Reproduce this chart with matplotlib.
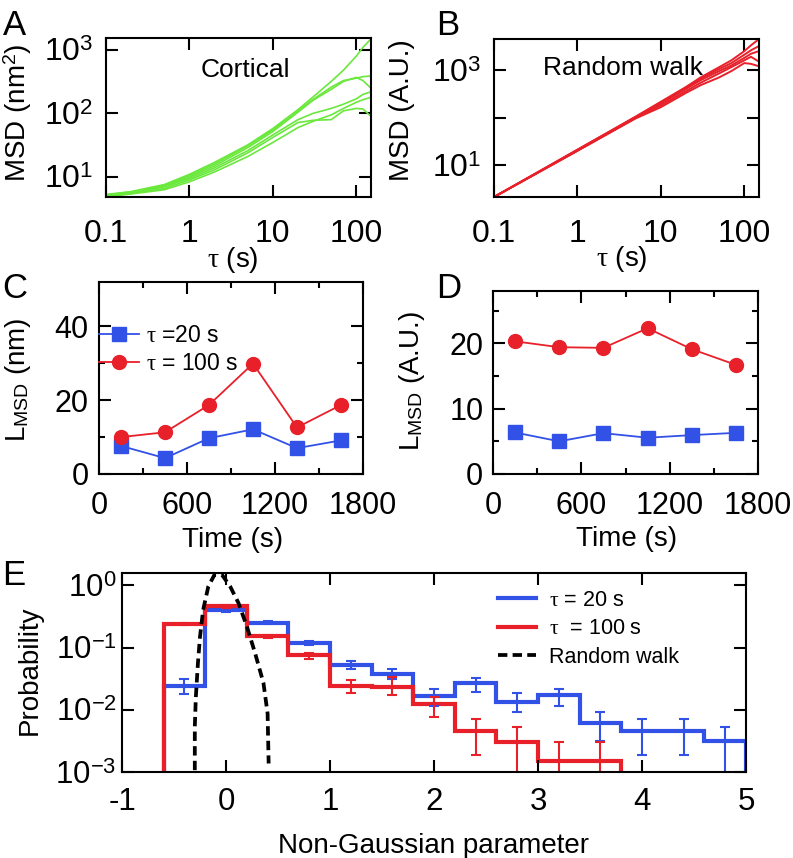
import matplotlib
matplotlib.use("Agg")
import matplotlib.pyplot as plt
from matplotlib.lines import Line2D
from matplotlib.ticker import NullLocator
import numpy as np

plt.rcParams['font.family'] = ['Liberation Sans', 'DejaVu Sans']
plt.rcParams['mathtext.fontset'] = 'custom'
plt.rcParams['mathtext.rm'] = 'Liberation Serif'
plt.rcParams['mathtext.it'] = 'Liberation Serif:italic'
plt.rcParams['mathtext.sf'] = 'Liberation Sans'
plt.rcParams['mathtext.bf'] = 'Liberation Sans:bold'

# --- panel A: cortical MSD curves (nm^2)
tau_cort = [0.1, 0.2, 0.5, 1, 2, 5, 10, 20, 30, 50, 70, 100, 120, 150]
cortical = [
    [5.3, 5.9, 7.6, 11.0, 17, 32, 58, 115, 180, 320, 480, 800, 1100, 1500],
    [5.2, 5.8, 7.3, 10.5, 16, 31, 55, 110, 165, 260, 330, 360, 380, 390],
    [5.1, 5.7, 7.2, 10.0, 15, 29, 52, 105, 160, 240, 320, 370, 330, 250],
    [5.0, 5.6, 7.0, 9.5, 14, 26, 46, 80, 100, 120, 140, 170, 200, 220],
    [5.0, 5.5, 6.6, 9.0, 13, 24, 42, 72, 78, 80, 110, 120, 118, 90],
    [4.9, 5.4, 6.3, 8.4, 12, 21, 35, 60, 75, 95, 120, 150, 165, 180],
]

# --- panel B: simulated random walk MSD (A.U.)
tau_rw = [0.1, 1, 5, 10, 20, 30, 50, 70, 100, 120, 150]
random_walk = [
    [2.12, 21, 105, 215, 440, 700, 1150, 1600, 2500, 3300, 4500],
    [2.12, 21, 103, 205, 420, 660, 1050, 1400, 2100, 2600, 3200],
    [2.12, 20, 100, 195, 400, 610, 950, 1250, 1800, 2200, 2500],
    [2.12, 20, 98, 180, 360, 540, 850, 1150, 1600, 1900, 1500],
    [2.12, 20, 96, 165, 330, 480, 700, 950, 1400, 1350, 1200],
]

# --- panels C, D: L_MSD vs time
time_s = [150, 450, 750, 1050, 1350, 1650]
c_tau20 = [7.6, 4.3, 9.7, 12.1, 7.0, 9.1]
c_tau100 = [10.0, 11.3, 18.7, 29.9, 12.6, 18.7]
d_tau20 = [6.35, 5.0, 6.25, 5.55, 5.95, 6.3]
d_tau100 = [20.3, 19.4, 19.3, 22.3, 19.1, 16.7]

# --- panel E: non-Gaussian parameter histograms
blue_edges = [-0.6, -0.2, 0.2, 0.6, 1.0, 1.4, 1.8, 2.2, 2.6, 3.0, 3.4, 3.8, 4.2, 4.6, 5.0]
blue_prob = [0.024, 0.40, 0.25, 0.118, 0.053, 0.038, 0.0168, 0.0267, 0.0135, 0.0173,
             0.0062, 0.0046, 0.0046, 0.0031]
blue_lo = [0.018, 0.37, 0.235, 0.108, 0.046, 0.031, 0.0115, 0.0195, 0.0091, 0.0115,
           0.0031, 0.0019, 0.0019, 0.0008]
blue_hi = [0.031, 0.42, 0.265, 0.128, 0.060, 0.045, 0.0213, 0.032, 0.0184, 0.0216,
           0.0091, 0.0071, 0.0071, 0.0052]

red_edges = [-0.6, -0.2, 0.2, 0.6, 1.0, 1.4, 1.8, 2.2, 2.6, 3.0, 3.4, 3.8]
red_prob = [0.238, 0.458, 0.151, 0.076, 0.0245, 0.023, 0.0122, 0.0046, 0.0030, 0.0015, 0.0015]
red_lo = [0.228, 0.44, 0.145, 0.066, 0.0184, 0.017, 0.0077, 0.0019, 0.0008, 0.0008, 0.0008]
red_hi = [0.248, 0.475, 0.158, 0.083, 0.030, 0.034, 0.0162, 0.0071, 0.0052, 0.0030, 0.0030]

rw_x = [-0.30, -0.30, -0.29, -0.27, -0.25, -0.22, -0.17, -0.11, -0.04, 0.04, 0.12, 0.20,
        0.28, 0.36, 0.40, 0.41]
rw_p = [0.00107, 0.0053, 0.016, 0.056, 0.15, 0.40, 0.96, 1.49, 1.49, 0.96, 0.52, 0.22,
        0.081, 0.027, 0.0087, 0.00137]

GREEN = '#6AE83C'
BLUE = '#3251E6'
RED = '#E8202A'
TAU = r'$\mathrm{\tau}$'
DASH = (0, (2.5, 1.4))

W, H = 793, 858
fig = plt.figure(figsize=(W / 100, H / 100), dpi=100)


def box(left, top, right, bottom):
    return [left / W, 1 - bottom / H, (right - left) / W, (bottom - top) / H]


def style(ax, xpad, ypad, size):
    ax.tick_params(which='both', direction='in', top=True, right=True, width=1.5,
                   labelsize=size)
    ax.tick_params(which='major', length=8.5)
    ax.tick_params(which='minor', length=4.3)
    ax.tick_params(axis='x', pad=xpad)
    ax.tick_params(axis='y', pad=ypad)
    for s in ax.spines.values():
        s.set_linewidth(1.5)


def sup(n):
    return r'10$^{\mathsf{%s}}$' % n


# A
axA = fig.add_axes(box(106, 38, 371, 197))
for c in cortical:
    axA.plot(tau_cort, c, color=GREEN, lw=1.2)
axA.set_xscale('log')
axA.set_yscale('log')
axA.set_xlim(0.1, 150)
axA.set_ylim(4.84, 1545)
axA.set_xticks([0.1, 1, 10, 100], labels=['0.1', '1', '10', '100'])
axA.set_yticks([10, 100, 1000], labels=[sup(1), sup(2), sup(3)])
axA.xaxis.set_minor_locator(NullLocator())
axA.yaxis.set_minor_locator(NullLocator())
style(axA, 15.5, 9.5, 23)
axA.text(0.525, 0.8, 'Cortical', transform=axA.transAxes, fontsize=19,
         ha='center', va='center')
axA.set_xlabel(TAU + ' (s)', fontsize=20)
axA.xaxis.set_label_coords(0.48, -0.30)
axA.set_ylabel(r'MSD (nm$^{\mathsf{2}}$)', fontsize=20)
axA.yaxis.set_label_coords(-0.27, 0.53)

# B
axB = fig.add_axes(box(494, 39, 759, 197))
axB.text(0.487, 0.816, 'Random walk', transform=axB.transAxes, fontsize=19,
         ha='center', va='center')
for c in random_walk:
    axB.plot(tau_rw, c, color=RED, lw=1.4)
axB.set_xscale('log')
axB.set_yscale('log')
axB.set_xlim(0.1, 150)
axB.set_ylim(2.12, 4500)
axB.set_xticks([0.1, 1, 10, 100], labels=['0.1', '1', '10', '100'])
axB.set_yticks([10, 100, 1000], labels=[sup(1), '', sup(3)])
axB.xaxis.set_minor_locator(NullLocator())
axB.yaxis.set_minor_locator(NullLocator())
style(axB, 15.5, 9.5, 23)
axB.set_xlabel(TAU + ' (s)', fontsize=20)
axB.xaxis.set_label_coords(0.483, -0.30)
axB.set_ylabel('MSD (A.U.)', fontsize=20)
axB.yaxis.set_label_coords(-0.298, 0.55)

# C
axC = fig.add_axes(box(99, 282, 363, 474))
axC.plot(time_s, c_tau20, color=BLUE, lw=1.3, marker='s', ms=9.5,
         label=TAU + ' =20 s')
axC.plot(time_s, c_tau100, color=RED, lw=1.3, marker='o', ms=10,
         label=TAU + ' = 100 s')
axC.set_xlim(0, 1800)
axC.set_ylim(0, 52)
axC.set_xticks([0, 600, 1200, 1800])
axC.set_xticks([300, 900, 1500], minor=True)
axC.set_yticks([0, 20, 40])
axC.set_yticks([10, 30], minor=True)
style(axC, 12.5, 7.5, 22)
axC.legend(loc='upper left', bbox_to_anchor=(0.0, 0.78), frameon=False,
           borderpad=0, borderaxespad=0, fontsize=16.5, numpoints=1,
           handlelength=1.75, handletextpad=0.3, labelspacing=0.2)
axC.set_xlabel('Time (s)', fontsize=20)
axC.xaxis.set_label_coords(0.506, -0.276)
axC.set_ylabel(r'L$_{\mathsf{MSD}}$ (nm)', fontsize=20)
axC.yaxis.set_label_coords(-0.25, 0.49)

# D
axD = fig.add_axes(box(493, 291, 758, 474))
axD.plot(time_s, d_tau20, color=BLUE, lw=1.3, marker='s', ms=9.5)
axD.plot(time_s, d_tau100, color=RED, lw=1.3, marker='o', ms=10)
axD.set_xlim(0, 1800)
axD.set_ylim(0, 28)
axD.set_xticks([0, 600, 1200, 1800])
axD.set_xticks([300, 900, 1500], minor=True)
axD.set_yticks([0, 10, 20])
axD.set_yticks([5, 15, 25], minor=True)
style(axD, 12.5, 7, 22)
axD.set_xlabel('Time (s)', fontsize=20)
axD.xaxis.set_label_coords(0.505, -0.284)
axD.set_ylabel(r'L$_{\mathsf{MSD}}$ (A.U.)', fontsize=20)
axD.yaxis.set_label_coords(-0.25, 0.51)

# E
axE = fig.add_axes(box(122, 573, 746, 772))
blue_c = [(a + b) / 2 for a, b in zip(blue_edges[:-1], blue_edges[1:])]
red_c = [(a + b) / 2 for a, b in zip(red_edges[:-1], red_edges[1:])]
axE.stairs(blue_prob, blue_edges, baseline=1e-5, color=BLUE, lw=3)
axE.errorbar(blue_c, blue_prob,
             yerr=[np.subtract(blue_prob, blue_lo), np.subtract(blue_hi, blue_prob)],
             fmt='none', ecolor=BLUE, elinewidth=1.5, capsize=3.5, capthick=1.5)
axE.stairs(red_prob, red_edges, baseline=1e-5, color=RED, lw=3)
axE.errorbar(red_c, red_prob,
             yerr=[np.subtract(red_prob, red_lo), np.subtract(red_hi, red_prob)],
             fmt='none', ecolor=RED, elinewidth=1.5, capsize=3.5, capthick=1.5)
axE.plot(rw_x, rw_p, color='black', lw=2.7, ls=DASH)
axE.set_yscale('log')
axE.set_xlim(-1, 5)
axE.set_ylim(1e-3, 1.58)
axE.set_xticks([-1, 0, 1, 2, 3, 4, 5], labels=['-1', '0', '1', '2', '3', '4', '5'])
axE.set_yticks([1, 0.1, 0.01, 0.001], labels=[sup(0), sup('-1'), sup('-2'), sup('-3')])
axE.yaxis.set_minor_locator(NullLocator())
style(axE, 11, 4, 22.5)
handles = [Line2D([], [], color=BLUE, lw=3),
           Line2D([], [], color=RED, lw=3),
           Line2D([], [], color='black', lw=2.7, ls=DASH)]
axE.legend(handles, [TAU + ' = 20 s', TAU + '  = 100 s', 'Random walk'],
           loc='upper left', bbox_to_anchor=(0.6026, 0.915), frameon=False,
           borderpad=0, borderaxespad=0, fontsize=15.5, handlelength=1.75,
           handletextpad=0.6, labelspacing=0.35)
axE.set_xlabel('Non-Gaussian parameter', fontsize=20)
axE.xaxis.set_label_coords(0.5, -0.307)
axE.set_ylabel('Probability', fontsize=20)
axE.yaxis.set_label_coords(-0.127, 0.513)

# panel letters
for letter, x, y in [('A', 3, 9), ('B', 436, 9), ('C', 2, 272), ('D', 436, 272),
                     ('E', 2, 559)]:
    fig.text(x / W, 1 - y / H, letter, fontsize=25, ha='left', va='top')

fig.savefig('out.png', dpi=100)
